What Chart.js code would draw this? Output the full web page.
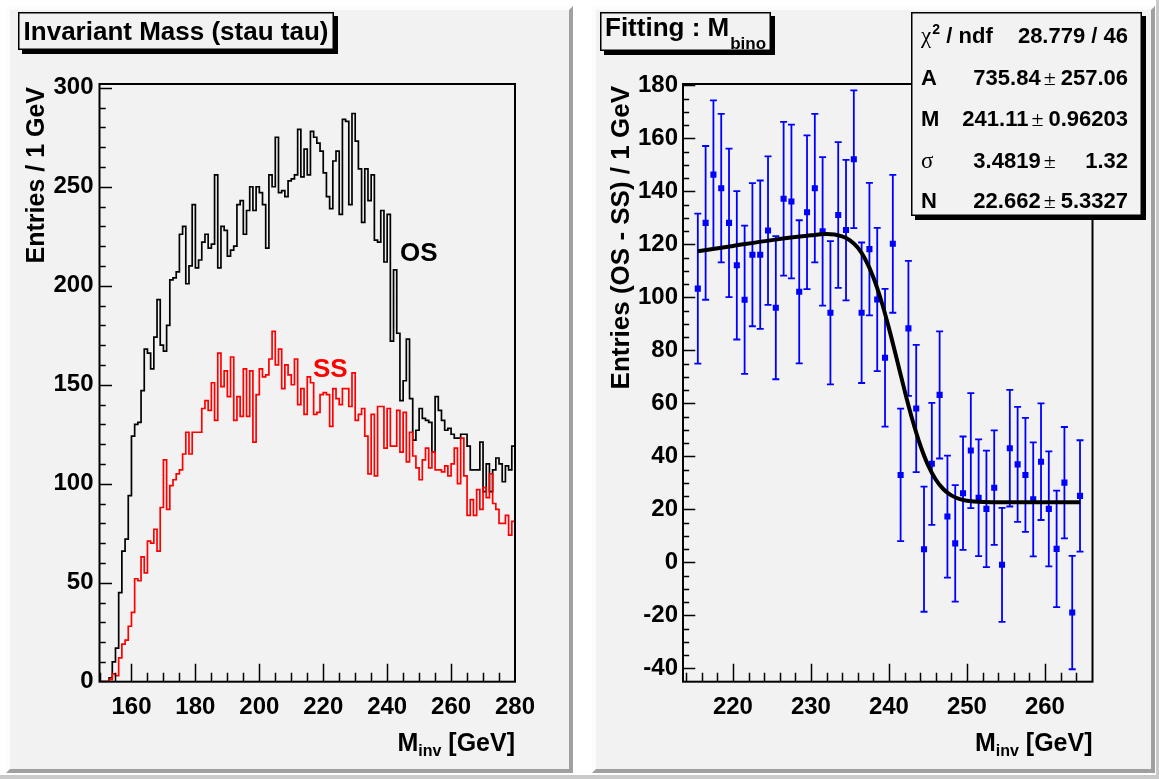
<!DOCTYPE html>
<html>
<head>
<meta charset="utf-8">
<script src="https://cdn.jsdelivr.net/npm/chart.js@4.4.1/dist/chart.umd.min.js"></script>
<style>
  html, body { margin: 0; padding: 0; background: #fff; }
  body { width: 1159px; height: 780px; position: relative; overflow: hidden; }
  canvas { position: absolute; top: 0; }
  #massChart { left: 0; }
  #fitChart { left: 582px; }
</style>
</head>
<body>
<canvas id="massChart" width="582" height="780" style="width:582px;height:780px"></canvas>
<canvas id="fitChart" width="577" height="780" style="width:577px;height:780px"></canvas>
<script>
// ---- left pad: invariant mass histograms, 1 GeV bins starting at 150 ----
var histMin = 150;
var histBinWidth = 1;
var osCounts = [
  0, 0, 0, 2, 10, 17, 45, 66, 72, 94,
  124, 130, 131, 147, 168, 166, 158, 174, 193, 170,
  167, 180, 203, 204, 207, 226, 230, 201, 210, 241,
  209, 213, 222, 226, 219, 221, 256, 209, 230, 228,
  215, 218, 220, 241, 243, 226, 238, 250, 238, 250,
  247, 241, 219, 256, 250, 275, 247, 248, 245, 253,
  254, 256, 279, 255, 269, 256, 278, 275, 272, 268,
  257, 245, 239, 263, 268, 236, 284, 283, 241, 287,
  273, 259, 232, 259, 243, 256, 223, 222, 238, 212,
  236, 172, 208, 176, 142, 152, 173, 143, 122, 127,
  138, 133, 132, 131, 116, 144, 137, 132, 127, 128,
  125, 123, 123, 125, 125, 119, 107, 107, 107, 121,
  96, 110, 96, 107, 113, 110, 101, 109, 107, 119
];
var ssCounts = [
  0, 0, 0, 1, 4, 3, 12, 19, 21, 28,
  35, 52, 51, 63, 55, 71, 70, 77, 66, 88,
  112, 87, 99, 102, 105, 107, 115, 126, 115, 126,
  126, 126, 138, 142, 137, 151, 132, 166, 149, 157,
  144, 164, 132, 144, 134, 158, 134, 157, 121, 145,
  158, 154, 155, 163, 177, 160, 168, 148, 160, 155,
  150, 163, 140, 148, 135, 154, 151, 135, 136, 145,
  146, 145, 129, 148, 143, 140, 148, 148, 139, 156,
  132, 135, 138, 124, 105, 135, 104, 139, 139, 118,
  138, 119, 119, 137, 116, 136, 111, 126, 114, 108,
  102, 112, 118, 108, 116, 107, 107, 106, 109, 104,
  110, 118, 100, 123, 104, 84, 92, 84, 97, 87,
  98, 93, 105, 90, 87, 80, 80, 84, 74, 81
];
var massXTicks = [160, 180, 200, 220, 240, 260, 280];
var massYTicks = [0, 50, 100, 150, 200, 250, 300];

// ---- right pad: OS - SS with fit ----
var diffCenters = [
  215.5, 216.5, 217.5, 218.5, 219.5, 220.5, 221.5, 222.5, 223.5, 224.5,
  225.5, 226.5, 227.5, 228.5, 229.5, 230.5, 231.5, 232.5, 233.5, 234.5,
  235.5, 236.5, 237.5, 238.5, 239.5, 240.5, 241.5, 242.5, 243.5, 244.5,
  245.5, 246.5, 247.5, 248.5, 249.5, 250.5, 251.5, 252.5, 253.5, 254.5,
  255.5, 256.5, 257.5, 258.5, 259.5, 260.5, 261.5, 262.5, 263.5, 264.5
];
var diffValues = [
  103.3, 128.1, 146.3, 141.2, 128.1, 112.1, 99.1, 116.1, 116.1, 125.2,
  96.1, 137.2, 136.2, 102.1, 132.1, 141.2, 124.9, 94.2, 131.1, 125.4,
  152.1, 94.2, 118.2, 99.2, 77.2, 120.2, 33, 88.3, 58.1, 5,
  37.2, 63.2, 17.3, 7.2, 26.1, 42.2, 24.4, 20.2, 28.2, -0.9,
  43.1, 37, 33, 23.8, 38, 20.2, 5.1, 30.1, -18.9, 25.1
];
var diffErrors = [
  28.3, 29, 28, 28, 28, 28, 28, 27, 28, 28,
  27, 29, 29, 27, 29, 28, 28, 27, 27.5, 26.5,
  26, 26.5, 25, 27, 26, 26, 25, 25.5, 24, 23.6,
  23, 24, 23, 22, 21.4, 21.7, 22, 22, 21.6, 21.5,
  22, 21.7, 21.5, 21.5, 22, 21.7, 22, 21, 21.4, 21
];
var fitX = [215.5, 220, 225, 230, 232, 234, 235, 236, 237, 238, 239, 240, 241,
            242, 243, 244, 245, 246, 247, 248, 249, 250, 252, 255, 260, 264.5];
var fitY = [117.4, 119.4, 121.6, 123.4, 123.9, 123.0, 121.5, 118.8, 114.2, 107.6, 98.9, 88.4, 76.8,
            65.0, 53.9, 44.4, 36.8, 31.3, 27.6, 25.3, 24.0, 23.3, 22.8, 22.7, 22.7, 22.7];
var fitXTicks = [220, 230, 240, 250, 260];
var fitYTicks = [-40, -20, 0, 20, 40, 60, 80, 100, 120, 140, 160, 180];
var chi2Text = '28.779 / 46';
var parNames = ['A', 'M', '\u03c3', 'N'];
var parValues = ['735.84', '241.11', '3.4819', '22.662'];
var parErrors = ['257.06', '0.96203', '1.32', '5.3327'];

var SANS = '"Liberation Sans", Arial, Helvetica, sans-serif';
var SERIF = '"Liberation Serif", "Times New Roman", serif';
var PAD = '#f2f2f2';

function drawPad(ctx, w, h, x0, y0, x1, y1) {
  ctx.save();
  ctx.fillStyle = '#fff';
  ctx.fillRect(0, 0, w, h);
  ctx.fillStyle = '#c9c9c9';
  ctx.fillRect(0, 775, w, 4);
  ctx.fillStyle = PAD;
  ctx.fillRect(x0, y0, x1 - x0, y1 - y0);
  var b = 4;
  ctx.fillStyle = '#fcfcfc';
  ctx.beginPath();
  ctx.moveTo(x0, y0); ctx.lineTo(x1, y0); ctx.lineTo(x1 - b, y0 + b);
  ctx.lineTo(x0 + b, y0 + b); ctx.lineTo(x0 + b, y1 - b); ctx.lineTo(x0, y1);
  ctx.closePath(); ctx.fill();
  ctx.fillStyle = '#a0a0a0';
  ctx.beginPath();
  ctx.moveTo(x1, y0); ctx.lineTo(x1, y1); ctx.lineTo(x0, y1);
  ctx.lineTo(x0 + b, y1 - b); ctx.lineTo(x1 - b, y1 - b); ctx.lineTo(x1 - b, y0 + b);
  ctx.closePath(); ctx.fill();
  ctx.restore();
}

function drawFrame(chart, xMajors, xMinor, yMajors, yMinor) {
  var ctx = chart.ctx, a = chart.chartArea, xs = chart.scales.x, ys = chart.scales.y;
  var xLen = (a.bottom - a.top) * 0.03, yLen = (a.right - a.left) * 0.03;
  ctx.save();
  ctx.strokeStyle = '#000';
  ctx.lineWidth = 1.5;
  ctx.beginPath();
  var v, px, big;
  for (v = Math.ceil(xs.min / xMinor) * xMinor; v <= xs.max; v += xMinor) {
    px = Math.round(xs.getPixelForValue(v)) + 0.5;
    if (px < a.left + 1 || px > a.right - 1) continue;
    big = xMajors.some(function (m) { return Math.abs(m - v) < 1e-6; });
    ctx.moveTo(px, a.bottom);
    ctx.lineTo(px, a.bottom - (big ? xLen : xLen / 2));
  }
  for (v = Math.ceil(ys.min / yMinor) * yMinor; v <= ys.max; v += yMinor) {
    px = Math.round(ys.getPixelForValue(v)) + 0.5;
    if (px < a.top + 1 || px > a.bottom - 1) continue;
    big = yMajors.some(function (m) { return Math.abs(m - v) < 1e-6; });
    ctx.moveTo(a.left, px);
    ctx.lineTo(a.left + (big ? yLen : yLen / 2), px);
  }
  ctx.stroke();
  ctx.lineWidth = 2;
  ctx.strokeRect(a.left, a.top, a.right - a.left, a.bottom - a.top);
  ctx.restore();
}

function shadowBox(ctx, x, y, w, h) {
  ctx.fillStyle = '#000';
  ctx.fillRect(x + 4, y + 4, w, h);
  ctx.fillStyle = PAD;
  ctx.fillRect(x, y, w, h);
  ctx.strokeStyle = '#000';
  ctx.lineWidth = 1.5;
  ctx.strokeRect(x + 0.75, y + 0.75, w - 1.5, h - 1.5);
}

function massTitle(ctx, right, base) {
  ctx.fillStyle = '#000';
  ctx.textAlign = 'left';
  ctx.textBaseline = 'alphabetic';
  ctx.font = 'bold 25px ' + SANS;
  var wM = ctx.measureText('M').width, wG = ctx.measureText(' [GeV]').width;
  ctx.font = 'bold 16px ' + SANS;
  var wS = ctx.measureText('inv').width;
  var x = right - wM - wS - wG;
  ctx.font = 'bold 25px ' + SANS;
  ctx.fillText('M', x, base);
  ctx.fillText(' [GeV]', x + wM + wS, base);
  ctx.font = 'bold 16px ' + SANS;
  ctx.fillText('inv', x + wM, base + 5);
}

function yTitle(ctx, text, cx, top, size) {
  ctx.save();
  ctx.translate(cx, top);
  ctx.rotate(-Math.PI / 2);
  ctx.font = 'bold ' + size + 'px ' + SANS;
  ctx.fillStyle = '#000';
  ctx.textAlign = 'right';
  ctx.textBaseline = 'middle';
  ctx.fillText(text, 0, 0);
  ctx.restore();
}

function axisOpts(min, max, tickList, size, pad) {
  return {
    type: 'linear',
    min: min,
    max: max,
    afterBuildTicks: function (s) { s.ticks = tickList.map(function (t) { return { value: t }; }); },
    grid: { display: false, drawTicks: false },
    border: { display: false },
    ticks: {
      color: '#000',
      font: { family: SANS, size: 24, weight: 'bold' },
      padding: pad,
      maxRotation: 0,
      autoSkip: false
    },
    afterFit: function (s) {
      if (s.isHorizontal()) { s.height = size; } else { s.width = size; }
    }
  };
}

var massPlugin = {
  id: 'massPad',
  beforeDraw: function (chart) {
    drawPad(chart.ctx, chart.width, chart.height, 6, 6, 573, 773);
  },
  afterDraw: function (chart) {
    var ctx = chart.ctx;
    drawFrame(chart, massXTicks, 5, massYTicks, 10);
    ctx.save();
    shadowBox(ctx, 18, 12, 316, 38);
    ctx.font = 'bold 26px ' + SANS;
    ctx.fillStyle = '#000';
    ctx.textAlign = 'center';
    ctx.textBaseline = 'alphabetic';
    ctx.fillText('Invariant Mass (stau tau)', 176, 40);
    ctx.textAlign = 'left';
    ctx.fillText('OS', 400, 261);
    ctx.fillStyle = '#ff0000';
    ctx.fillText('SS', 313, 377);
    yTitle(ctx, 'Entries / 1 GeV', 37, 87, 25);
    massTitle(ctx, 515, 751);
    ctx.restore();
  }
};

function histPoints(counts) {
  var pts = counts.map(function (c, i) { return { x: histMin + i * histBinWidth, y: c }; });
  pts.push({ x: histMin + counts.length * histBinWidth, y: counts[counts.length - 1] });
  return pts;
}

new Chart(document.getElementById('massChart'), {
  type: 'line',
  data: {
    datasets: [
      { label: 'SS', data: histPoints(ssCounts), stepped: 'before', borderColor: '#ff0000',
        borderWidth: 1.7, pointRadius: 0, fill: false, order: 0 },
      { label: 'OS', data: histPoints(osCounts), stepped: 'before', borderColor: '#000000',
        borderWidth: 1.7, pointRadius: 0, fill: false, order: 1 }
    ]
  },
  options: {
    responsive: false,
    animation: false,
    devicePixelRatio: 1,
    events: [],
    layout: { padding: { left: 0, right: 67, top: 84, bottom: 0 } },
    plugins: { legend: { display: false }, tooltip: { enabled: false } },
    scales: {
      x: axisOpts(150, 280, massXTicks, 98.3, 11),
      y: axisOpts(0, 301.9, massYTicks, 99.5, 6)
    }
  },
  plugins: [massPlugin]
});

var fitPlugin = {
  id: 'fitPad',
  beforeDraw: function (chart) {
    drawPad(chart.ctx, chart.width, chart.height, 10, 6, 573, 773);
    var ctx = chart.ctx;
    ctx.fillStyle = '#c9c9c9';
    ctx.fillRect(chart.width - 3, 0, 3, 779);
  },
  beforeDatasetsDraw: function (chart) {
    var ctx = chart.ctx, xs = chart.scales.x, ys = chart.scales.y;
    ctx.save();
    ctx.strokeStyle = '#0000ff';
    ctx.lineWidth = 1.8;
    ctx.beginPath();
    diffCenters.forEach(function (m, i) {
      var px = xs.getPixelForValue(m);
      var top = ys.getPixelForValue(diffValues[i] + diffErrors[i]);
      var bot = ys.getPixelForValue(diffValues[i] - diffErrors[i]);
      ctx.moveTo(px, top); ctx.lineTo(px, bot);
      ctx.moveTo(px - 3.5, top); ctx.lineTo(px + 3.5, top);
      ctx.moveTo(px - 3.5, bot); ctx.lineTo(px + 3.5, bot);
    });
    ctx.stroke();
    ctx.restore();
  },
  afterDraw: function (chart) {
    var ctx = chart.ctx;
    drawFrame(chart, fitXTicks, 2, fitYTicks, 5);
    ctx.save();
    // title
    shadowBox(ctx, 18, 12, 171, 39);
    ctx.fillStyle = '#000';
    ctx.textAlign = 'left';
    ctx.textBaseline = 'alphabetic';
    ctx.font = 'bold 26px ' + SANS;
    ctx.fillText('Fitting : M', 23, 36);
    var wt = ctx.measureText('Fitting : M').width;
    ctx.font = 'bold 17px ' + SANS;
    ctx.fillText('bino', 23 + wt + 1, 49);
    yTitle(ctx, 'Entries (OS - SS) / 1 GeV', 40, 86, 26);
    massTitle(ctx, 510.5, 751);
    // stats box
    shadowBox(ctx, 329, 12, 231, 204);
    var xl = 339, xr = 546;
    var bases = [43, 85, 126, 168, 208];
    ctx.fillStyle = '#000';
    ctx.font = '23px ' + SERIF;
    ctx.fillText('\u03c7', xl, bases[0]);
    var wc = ctx.measureText('\u03c7').width;
    ctx.font = 'bold 14px ' + SANS;
    ctx.fillText('2', xl + wc + 1, bases[0] - 9);
    ctx.font = 'bold 22px ' + SANS;
    ctx.fillText(' / ndf', xl + wc + 9, bases[0]);
    ctx.textAlign = 'right';
    ctx.fillText(chi2Text, xr, bases[0]);
    ctx.font = 'bold 22px ' + SANS;
    var minErr = ctx.measureText('257.06').width;
    parNames.forEach(function (name, i) {
      var b = bases[i + 1];
      ctx.textAlign = 'left';
      ctx.font = (name === '\u03c3' ? '23px ' + SERIF : 'bold 22px ' + SANS);
      ctx.fillText(name, xl, b);
      ctx.textAlign = 'right';
      ctx.font = 'bold 22px ' + SANS;
      ctx.fillText(parErrors[i], xr, b);
      var we = Math.max(ctx.measureText(parErrors[i]).width, minErr);
      var pmRight = xr - we - 5;
      ctx.font = '22px ' + SERIF;
      ctx.fillText('\u00b1', pmRight, b);
      var wpm = ctx.measureText('\u00b1').width;
      ctx.font = 'bold 22px ' + SANS;
      ctx.fillText(parValues[i], pmRight - wpm - 3, b);
    });
    ctx.restore();
  }
};

new Chart(document.getElementById('fitChart'), {
  type: 'scatter',
  data: {
    datasets: [
      { label: 'fit', data: fitX.map(function (x, i) { return { x: x, y: fitY[i] }; }),
        showLine: true, borderColor: '#000', borderWidth: 4, pointRadius: 0,
        cubicInterpolationMode: 'monotone', fill: false, order: 0 },
      { label: 'OS - SS', data: diffCenters.map(function (x, i) { return { x: x, y: diffValues[i] }; }),
        pointStyle: 'rect', pointRadius: 4.3, backgroundColor: '#0000ff', borderColor: '#0000ff',
        borderWidth: 0, order: 1 }
    ]
  },
  options: {
    responsive: false,
    animation: false,
    devicePixelRatio: 1,
    events: [],
    layout: { padding: { left: 0, right: 66.5, top: 84, bottom: 0 } },
    plugins: { legend: { display: false }, tooltip: { enabled: false } },
    scales: {
      x: axisOpts(213.6, 266.1, fitXTicks, 98.3, 11),
      y: axisOpts(-45, 180.5, fitYTicks, 101, 5)
    }
  },
  plugins: [fitPlugin]
});
</script>
</body>
</html>
